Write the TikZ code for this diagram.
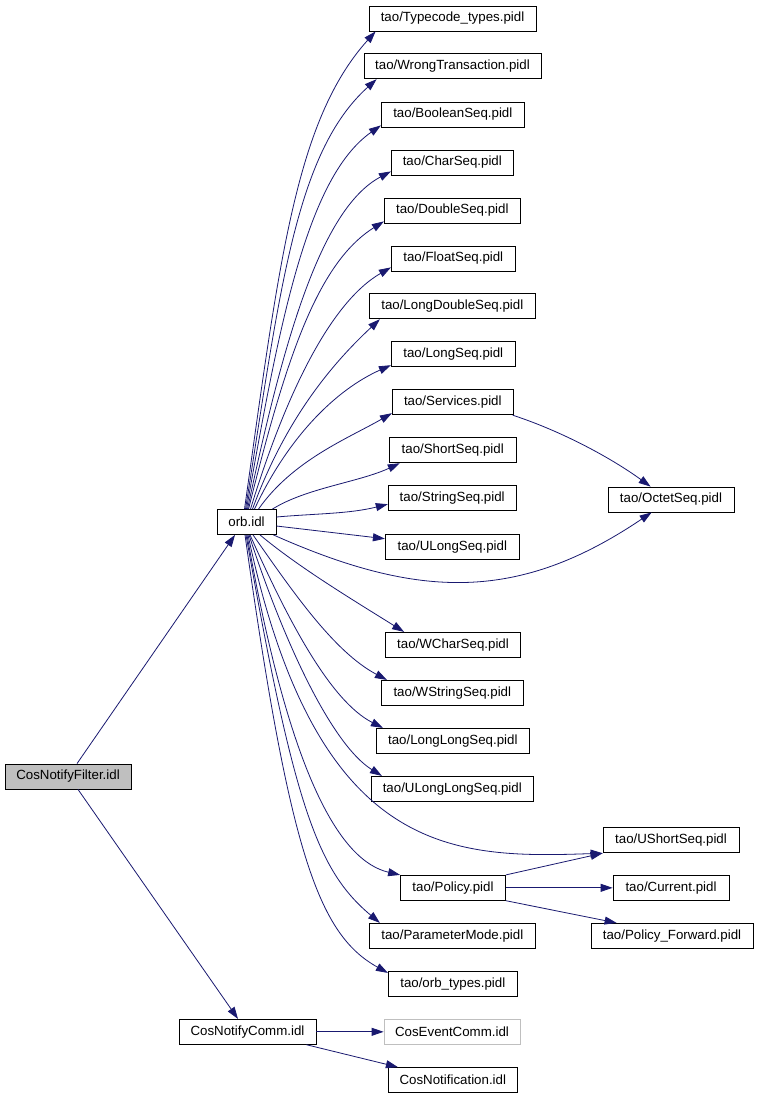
\documentclass[tikz,border=0pt]{standalone}
\usepackage{fontspec}
\setmainfont{Liberation Sans}
\usetikzlibrary{arrows.meta}
\definecolor{edgeblue}{HTML}{191970}
\definecolor{boxgray}{HTML}{BFBFBF}
\begin{document}
\begin{tikzpicture}[x=1pt,y=1pt,
  filebox/.style={draw=black, line width=0.8pt, minimum height=25pt, inner sep=0pt,
    font=\fontsize{13.3}{16}\selectfont},
  rootbox/.style={filebox, fill=boxgray},
  greybox/.style={filebox, draw=boxgray},
  dep/.style={draw=edgeblue, line width=0.8pt, -{Triangle[length=12pt,width=8pt]}}]
\fill[white] (0,0) rectangle (757,-1096);
\useasboundingbox (0,0) rectangle (757,-1096);

% nodes
\node[filebox, minimum width=167pt] (tc)   at (452.5,-18.5)  {tao/Typecode\_types.pidl};
\node[filebox, minimum width=177pt] (wt)   at (452.5,-66.3)  {tao/WrongTransaction.pidl};
\node[filebox, minimum width=143pt] (bs)   at (452.8,-114.5) {tao/BooleanSeq.pidl};
\node[filebox, minimum width=122pt] (cs)   at (452.3,-162.5) {tao/CharSeq.pidl};
\node[filebox, minimum width=136pt] (ds)   at (452.3,-210.5) {tao/DoubleSeq.pidl};
\node[filebox, minimum width=124pt] (fs)   at (453.3,-258.5) {tao/FloatSeq.pidl};
\node[filebox, minimum width=166pt] (lds)  at (452.3,-306.3) {tao/LongDoubleSeq.pidl};
\node[filebox, minimum width=124pt] (ls)   at (453.3,-354.3) {tao/LongSeq.pidl};
\node[filebox, minimum width=121pt] (sv)   at (452.8,-402.3) {tao/Services.pidl};
\node[filebox, minimum width=127pt] (ss)   at (452.7,-450.3) {tao/ShortSeq.pidl};
\node[filebox, minimum width=128pt] (sts)  at (452.2,-498.2) {tao/StringSeq.pidl};
\node[filebox, minimum width=134pt] (uls)  at (452.3,-546.7) {tao/ULongSeq.pidl};
\node[filebox, minimum width=135pt] (wcs)  at (453.0,-644.8) {tao/WCharSeq.pidl};
\node[filebox, minimum width=142pt] (wss)  at (452.3,-692.8) {tao/WStringSeq.pidl};
\node[filebox, minimum width=153pt] (lls)  at (452.8,-740.8) {tao/LongLongSeq.pidl};
\node[filebox, minimum width=162pt] (ulls) at (452.3,-788.8) {tao/ULongLongSeq.pidl};
\node[filebox, minimum width=105pt] (pol)  at (453.0,-887.8) {tao/Policy.pidl};
\node[filebox, minimum width=166pt] (pm)   at (452.3,-935.8) {tao/ParameterMode.pidl};
\node[filebox, minimum width=129pt] (ot)   at (452.8,-983.8) {tao/orb\_types.pidl};
\node[greybox, minimum width=136pt] (cec)  at (452.0,-1031.8) {CosEventComm.idl};
\node[filebox, minimum width=129pt] (cn)   at (452.8,-1080.0) {CosNotification.idl};
\node[filebox, minimum width=137pt] (cnc)  at (247.5,-1031.8) {CosNotifyComm.idl};
\node[filebox, minimum width=59pt]  (orb)  at (246.5,-522.0) {orb.idl};
\node[rootbox, minimum width=126pt] (cnf)  at (68.0,-776.5)  {CosNotifyFilter.idl};
\node[filebox, minimum width=126pt] (oct)  at (671.0,-499.5) {tao/OctetSeq.pidl};
\node[filebox, minimum width=136pt] (uss)  at (671.0,-840.3) {tao/UShortSeq.pidl};
\node[filebox, minimum width=116pt] (cur)  at (671.0,-887.8) {tao/Current.pidl};
\node[filebox, minimum width=162pt] (pf)   at (672.0,-935.8) {tao/Policy\_Forward.pidl};

% edges from CosNotifyFilter
\draw[dep] ([xshift=9pt]cnf.north) -- ([xshift=-11.5pt]orb.south);
\draw[dep] ([xshift=10pt]cnf.south) -- ([xshift=-9.5pt]cnc.north);

% edges from orb.idl upwards
\draw[dep] ([xshift=-2pt]orb.north) .. controls +(82:250) and +(228:120) .. ([xshift=7pt]tc.south west);
\draw[dep] ([xshift=-1pt]orb.north) .. controls +(81:220) and +(222:110) .. ([xshift=13pt]wt.south west);
\draw[dep] (orb.north) .. controls +(80:190) and +(215:90) .. ([yshift=2pt]bs.south west);
\draw[dep] ([xshift=1pt]orb.north) .. controls +(78:170) and +(208:80) .. ([yshift=4pt]cs.south west);
\draw[dep] ([xshift=2pt]orb.north) .. controls +(76:150) and +(212:80) .. ([yshift=2pt]ds.south west);
\draw[dep] ([xshift=4pt]orb.north) .. controls +(73:120) and +(210:70) .. ([yshift=4pt]fs.south west);
\draw[dep] ([xshift=6pt]orb.north) .. controls +(70:100) and +(223:60) .. ([xshift=11pt]lds.south west);
\draw[dep] ([xshift=8pt]orb.north) .. controls +(65:80) and +(204:60) .. ([yshift=2pt]ls.south west);
\draw[dep] ([xshift=12pt]orb.north) .. controls +(55:60) and +(210:50) .. ([yshift=2pt]sv.south west);
\draw[dep] ([xshift=-4pt]orb.north east) .. controls +(32:40) and +(205:45) .. ([xshift=11pt]ss.south west);
\draw[dep] ([yshift=5pt]orb.east) .. controls +(5:40) and +(194:40) .. ([yshift=-6pt]sts.west);
\draw[dep] ([yshift=-4pt]orb.east) -- ([yshift=8pt]uls.west);

% to OctetSeq
\draw[dep] ([xshift=-3pt]orb.south east) .. controls +(-24:160) and +(214:160) .. ([xshift=44pt]oct.south west);
\draw[dep] ([xshift=-1pt]sv.south east) .. controls +(-18:50) and +(144:50) .. ([xshift=43pt]oct.north west);

% edges from orb.idl downwards
\draw[dep] ([xshift=13.5pt]orb.south) .. controls +(-40:50) and +(148:60) .. ([xshift=19pt]wcs.north west);
\draw[dep] ([xshift=6.5pt]orb.south) .. controls +(-55:70) and +(152:60) .. ([xshift=6pt]wss.north west);
\draw[dep] ([xshift=3.5pt]orb.south) .. controls +(-66:90) and +(153:60) .. ([xshift=7pt]lls.north west);
\draw[dep] ([xshift=2.5pt]orb.south) .. controls +(-72:110) and +(148:60) .. ([xshift=11pt]ulls.north west);
\draw[dep] ([xshift=1.5pt]orb.south) .. controls +(-78:330) and +(182:150) .. (uss.south west);
\draw[dep] ([xshift=0.5pt]orb.south) .. controls +(-80:250) and +(167:60) .. (pol.north west);
\draw[dep] ([xshift=-0.5pt]orb.south) .. controls +(-80:280) and +(140:80) .. ([xshift=11pt]pm.north west);
\draw[dep] ([xshift=-1.5pt]orb.south) .. controls +(-82:320) and +(151:80) .. ([yshift=-2pt]ot.north west);

% Policy edges
\draw[dep] (pol.north east) -- (uss.south west);
\draw[dep] (pol.east) -- (cur.west);
\draw[dep] (pol.south east) -- ([xshift=26pt]pf.north west);

% CosNotifyComm edges
\draw[dep] (cnc.east) -- (cec.west);
\draw[dep] ([xshift=-10pt]cnc.south east) -- ([xshift=10pt]cn.north west);
\end{tikzpicture}
\end{document}
